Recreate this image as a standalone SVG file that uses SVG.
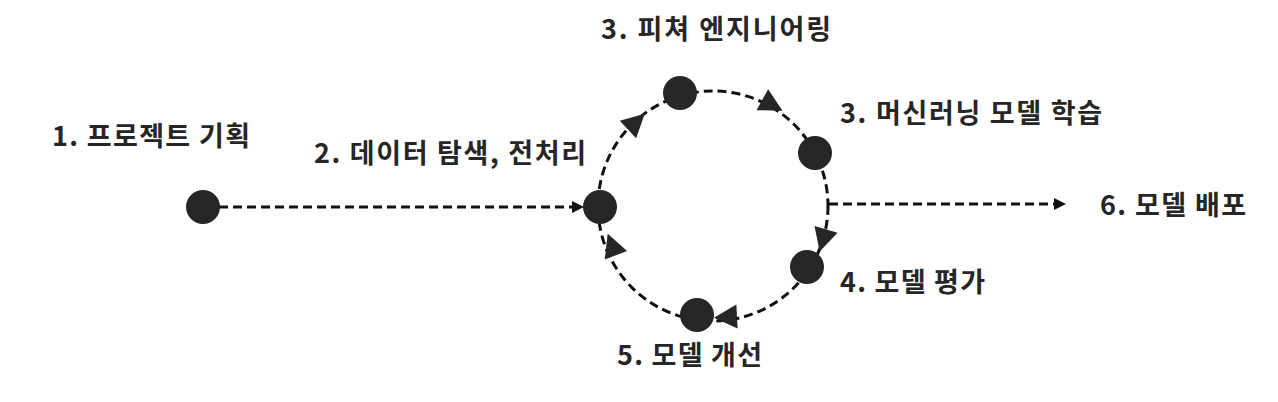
<svg xmlns="http://www.w3.org/2000/svg" width="1278" height="402" viewBox="0 0 1278 402">
<defs>
<style>
.lbl{font-family:"Noto Sans CJK KR","Noto Sans",sans-serif;font-weight:bold;font-size:27px;fill:#262626}
.node{fill:#262626}
.dash{fill:none;stroke:#111;stroke-width:3;stroke-dasharray:9 5}
.head{fill:#262626}
</style>
<marker id="arr" viewBox="0 0 10 10" refX="10" refY="5" markerWidth="4" markerHeight="4" orient="auto" markerUnits="strokeWidth">
<path d="M0,0 L10,5 L0,10 z" fill="#111"/>
</marker>
<polygon id="tri" points="12,0 -11,-12 -11,12"/>
</defs>
<rect width="1278" height="402" fill="#fff"/>
<g id="connectors">
<line class="dash" x1="219" y1="207" x2="584" y2="207" marker-end="url(#arr)"/>
<circle class="dash" cx="713" cy="206" r="115"/>
<line class="dash" x1="829" y1="204" x2="1066" y2="204" marker-end="url(#arr)"/>
<use href="#tri" class="head" transform="translate(636,122) rotate(-43)"/>
<use href="#tri" class="head" transform="translate(772,105) rotate(29)"/>
<use href="#tri" class="head" transform="translate(823,240) rotate(106)"/>
<use href="#tri" class="head" transform="translate(726,317) rotate(177)"/>
<use href="#tri" class="head" transform="translate(612,245) rotate(-111)"/>
</g>
<g id="n1"><circle class="node" cx="203" cy="207" r="17"/><text class="lbl" x="52" y="146" textLength="198" lengthAdjust="spacing">1. 프로젝트 기획</text></g>
<g id="n2"><circle class="node" cx="600" cy="207" r="17"/><text class="lbl" x="314" y="163" textLength="272" lengthAdjust="spacing">2. 데이터 탐색, 전처리</text></g>
<g id="n3"><circle class="node" cx="680" cy="93" r="17"/><text class="lbl" x="601" y="39" textLength="230" lengthAdjust="spacing">3. 피쳐 엔지니어링</text></g>
<g id="n4"><circle class="node" cx="815" cy="153" r="17"/><text class="lbl" x="840" y="123" textLength="262" lengthAdjust="spacing">3. 머신러닝 모델 학습</text></g>
<g id="n5"><circle class="node" cx="807" cy="267" r="17"/><text class="lbl" x="840" y="292" textLength="145" lengthAdjust="spacing">4. 모델 평가</text></g>
<g id="n6"><circle class="node" cx="697" cy="315" r="17"/><text class="lbl" x="617" y="365" textLength="145" lengthAdjust="spacing">5. 모델 개선</text></g>
<g id="n7"><text class="lbl" x="1100" y="215" textLength="146" lengthAdjust="spacing">6. 모델 배포</text></g>
</svg>
